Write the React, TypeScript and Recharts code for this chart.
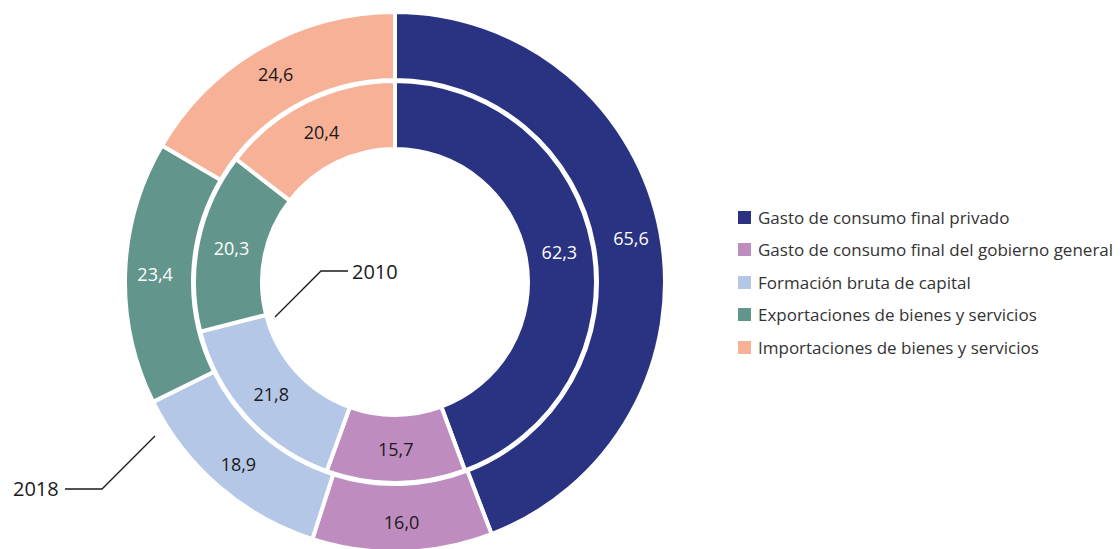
import { Customized, Legend, Pie, PieChart } from 'recharts';

const categories = [
  'Gasto de consumo final privado',
  'Gasto de consumo final del gobierno general',
  'Formación bruta de capital',
  'Exportaciones de bienes y servicios',
  'Importaciones de bienes y servicios',
];
const values2010 = [62.3, 15.7, 21.8, 20.3, 20.4];
const values2018 = [65.6, 16.0, 18.9, 23.4, 24.6];

const COLORS = ['#2a3282', '#be8cbf', '#b4c7e7', '#62968c', '#f6b196'];
const LABEL_COLORS = ['#ffffff', '#1a1a1a', '#1a1a1a', '#ffffff', '#1a1a1a'];

const data2010 = categories.map((name, i) => ({ name, value: values2010[i], fill: COLORS[i] }));
const data2018 = categories.map((name, i) => ({ name, value: values2018[i], fill: COLORS[i] }));

const RAD = Math.PI / 180;
const CX = 395;
const CY = 282;

function makeLabel(extra: number) {
  return (props: any) => {
    const { cx, cy, midAngle, innerRadius, outerRadius, value, index } = props;
    const r = (innerRadius + outerRadius) / 2 + extra;
    const x = cx + r * Math.cos(-midAngle * RAD);
    const y = cy + r * Math.sin(-midAngle * RAD);
    return (
      <text
        x={x}
        y={y}
        fill={LABEL_COLORS[index]}
        textAnchor="middle"
        dominantBaseline="central"
        fontSize={18}
        fontFamily="'Open Sans', sans-serif"
      >
        {Number(value).toFixed(1).replace('.', ',')}
      </text>
    );
  };
}

function LegendContent() {
  return (
    <div style={{ fontFamily: "'Open Sans', sans-serif", fontSize: 17, color: '#333' }}>
      {categories.map((c, i) => (
        <div key={c} style={{ display: 'flex', alignItems: 'center', height: 32.5 }}>
          <span
            style={{ width: 13, height: 13, background: COLORS[i], display: 'inline-block', marginRight: 7 }}
          />
          <span style={{ whiteSpace: 'nowrap' }}>{c}</span>
        </div>
      ))}
    </div>
  );
}

function Annotations() {
  return (
    <g fontFamily="'Open Sans', sans-serif" fontSize={20} fill="#1a1a1a">
      <polyline points="275,317 321,271 348,271" fill="none" stroke="#1a1a1a" strokeWidth={1.3} />
      <text x={352} y={271} dominantBaseline="central">2010</text>
      <polyline points="155,436 102,489 65,489" fill="none" stroke="#1a1a1a" strokeWidth={1.3} />
      <text x={13} y={488} dominantBaseline="central">2018</text>
    </g>
  );
}

export default function App() {
  return (
    <div style={{ position: 'absolute', left: 0, top: 0, width: 1120, height: 549, background: '#fff' }}>
      <PieChart width={1120} height={549} margin={{ top: 0, right: 0, bottom: 0, left: 0 }}>
        <Pie
          data={data2010}
          dataKey="value"
          nameKey="name"
          cx={CX}
          cy={CY}
          startAngle={90}
          endAngle={-270}
          innerRadius={133}
          outerRadius={201}
          stroke="#ffffff"
          strokeWidth={4}
          label={makeLabel(0)}
          labelLine={false}
          isAnimationActive={false}
        />
        <Pie
          data={data2018}
          dataKey="value"
          nameKey="name"
          cx={CX}
          cy={CY}
          startAngle={90}
          endAngle={-270}
          innerRadius={202}
          outerRadius={270}
          stroke="#ffffff"
          strokeWidth={4}
          label={makeLabel(4)}
          labelLine={false}
          isAnimationActive={false}
        />
        <Customized component={Annotations} />
        <Legend
          layout="vertical"
          verticalAlign="top"
          align="right"
          content={<LegendContent />}
          wrapperStyle={{ left: 738, right: 'auto', top: 201, width: 380 }}
        />
      </PieChart>
    </div>
  );
}
